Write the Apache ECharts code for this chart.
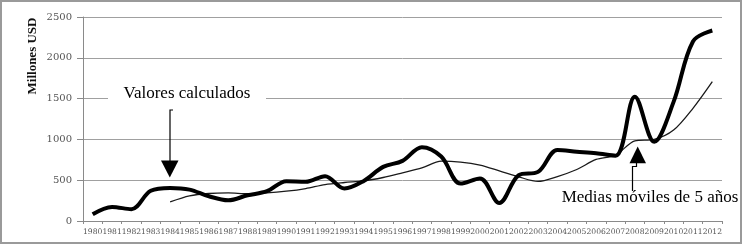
<!DOCTYPE html>
<html>
<head>
<meta charset="utf-8">
<script src="https://cdn.jsdelivr.net/npm/echarts@6/dist/echarts.min.js"></script>
<style>
html,body{margin:0;padding:0;background:#fff;}
#c{width:742px;height:244px;}
</style>
</head>
<body>
<div id="c"></div>
<script>
var years = ['1980','1981','1982','1983','1984','1985','1986','1987','1988','1989','1990','1991','1992','1993','1994','1995','1996','1997','1998','1999','2000','2001','2002','2003','2004','2005','2006','2007','2008','2009','2010','2011','2012'];
var valoresCalculados = [82,172,145,370,405,385,303,254,315,365,488,480,549,398,491,663,737,905,790,459,521,221,561,602,870,850,830,800,1523,970,1460,2200,2335];
var mediasMoviles = [null,null,null,null,233,307,337,344,335,344,365,398,447,472,491,533,590,650,733,721,684,614,541,485,545,631,754,807,983,1000,1114,1381,1708];
var yTicks = [0,500,1000,1500,2000,2500];

var serif = '"Liberation Serif", "DejaVu Serif", serif';
var wideSerif = '"DejaVu Serif", serif';
var chart = echarts.init(document.getElementById('c'), null, {renderer:'canvas'});
chart.setOption({
  animation:false,
  backgroundColor:'#fff',
  grid:{left:83, right:20, top:17, bottom:23},
  xAxis:{
    type:'category', data:years, boundaryGap:true,
    axisLine:{lineStyle:{color:'#8a8a8a', width:1}},
    axisTick:{show:true, interval:0, length:3, lineStyle:{color:'#8a8a8a'}},
    axisLabel:{interval:0, fontSize:7.6, fontFamily:wideSerif, color:'#555', margin:7}
  },
  yAxis:{
    type:'value', min:yTicks[0], max:yTicks[yTicks.length-1], interval:500,
    axisLine:{show:true, lineStyle:{color:'#8a8a8a'}},
    axisTick:{show:true, length:6, lineStyle:{color:'#8a8a8a'}},
    axisLabel:{fontSize:10, fontFamily:wideSerif, color:'#555', margin:11,
      formatter:function(v){return String(v);}},
    splitLine:{lineStyle:{color:'#a0a0a0', width:1}}
  },
  series:[
    {type:'line', name:'Valores calculados', data:valoresCalculados, smooth:0.35, symbol:'none',
     lineStyle:{color:'#000', width:4}, z:3},
    {type:'line', name:'Medias móviles de 5 años', data:mediasMoviles, smooth:0.3, symbol:'none',
     lineStyle:{color:'#1a1a1a', width:1.3}, z:2}
  ],
  graphic:[
    {type:'rect', shape:{x:1,y:1,width:740,height:242}, style:{fill:'none', stroke:'#9a9a9a', lineWidth:2}, z:100},
    {type:'text', x:33, y:56, rotation:Math.PI/2, style:{text:'Millones USD', font:'bold 13px '+serif, fill:'#111', textAlign:'center', verticalAlign:'middle'}, z:100},
    {type:'rect', shape:{x:108,y:84,width:158,height:22}, style:{fill:'#fff'}, z:100},
    {type:'text', x:187, y:94, style:{text:'Valores calculados', font:'17px '+serif, fill:'#000', textAlign:'center', verticalAlign:'middle'}, z:101},
    {type:'polyline', shape:{points:[[173,110],[170,110],[170,161]]}, style:{stroke:'#000', lineWidth:1.2, fill:'none'}, z:101},
    {type:'polygon', shape:{points:[[161,160.5],[178.5,160.5],[169.8,177.5]]}, style:{fill:'#000'}, z:101},
    {type:'text', x:650, y:198, style:{text:'Medias móviles de 5 años', font:'17px '+serif, fill:'#000', textAlign:'center', verticalAlign:'middle'}, z:101},
    {type:'polyline', shape:{points:[[632.5,191],[632.5,166.5],[636.5,166.5],[636.5,163]]}, style:{stroke:'#000', lineWidth:1.2, fill:'none'}, z:101},
    {type:'polygon', shape:{points:[[629.5,163.3],[646,163.3],[637.7,146.5]]}, style:{fill:'#000'}, z:101}
  ]
});
</script>
</body>
</html>
